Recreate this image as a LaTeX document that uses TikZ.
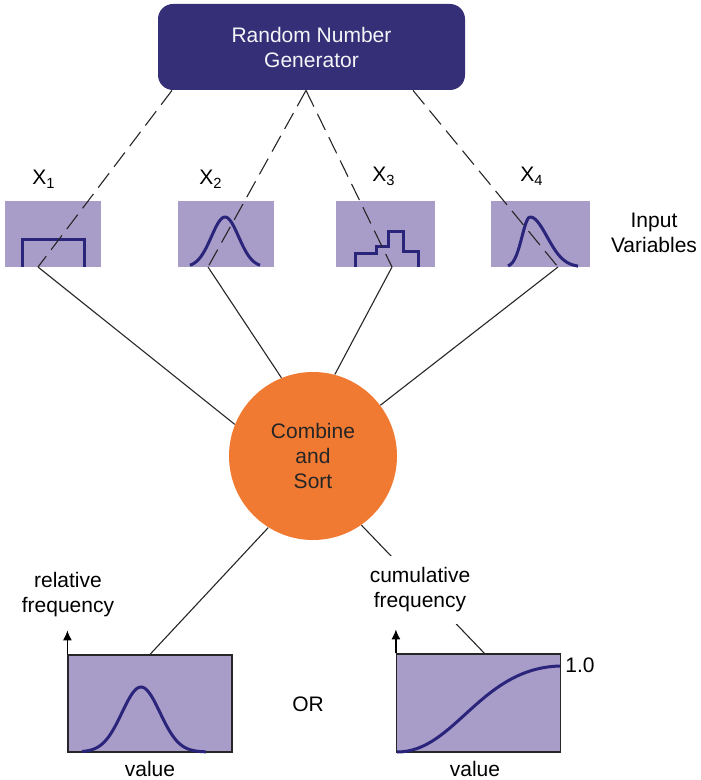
\documentclass[tikz,border=0pt]{standalone}
\usepackage{fontspec}
\setmainfont{Liberation Sans}
\usepackage{tikz}
\usetikzlibrary{arrows.meta, positioning, calc}
\definecolor{rngnavy}{RGB}{53,47,119}
\definecolor{curvenavy}{RGB}{42,36,122}
\definecolor{varlilac}{RGB}{168,156,201}
\definecolor{mixorange}{RGB}{241,122,51}

\begin{document}
\begin{tikzpicture}[
  x=0.5pt, y=-0.5pt,
  font=\fontsize{10.5}{12.5}\selectfont,
  varbox/.style={fill=varlilac, minimum width=48pt, minimum height=33pt,
                 inner sep=0pt},
  plotbox/.style={draw=black!85, line width=0.6pt, fill=varlilac,
                  minimum width=82pt, minimum height=48.5pt, inner sep=0pt},
  curve/.style={draw=curvenavy, line width=1.5pt},
  dashline/.style={black!85, line width=0.55pt, dash pattern=on 9pt off 4pt},
  link/.style={black!85, line width=0.55pt},
  axisarrow/.style={black, line width=0.6pt,
                    -{Latex[length=5pt, width=4.5pt]}},
  lbl/.style={align=center, inner sep=1pt}]

  \useasboundingbox (0,0) rectangle (700,780);

  % generator on top
  \node[fill=rngnavy, rounded corners=7.5pt, minimum width=153.5pt,
        minimum height=43pt, text=white!95!rngnavy, align=center]
    (rng) at (311.5,47) {Random Number\\ Generator};

  % input variables
  \node[varbox] (x1box) at (53,234.5) {};
  \node[varbox] (x2box) at (225.5,234.5) {};
  \node[varbox, minimum width=49.5pt] (x3box) at (385.5,234.5) {};
  \node[varbox, minimum width=49.5pt] (x4box) at (540.5,234.5) {};

  \node[anchor=base west, inner sep=0pt] (x1lbl) at (32,185)
    {X\textsubscript{1}};
  \node[anchor=base west, inner sep=0pt] (x2lbl) at (199,185)
    {X\textsubscript{2}};
  \node[anchor=base west, inner sep=0pt] (x3lbl) at (372,182)
    {X\textsubscript{3}};
  \node[anchor=base west, inner sep=0pt] (x4lbl) at (520,182)
    {X\textsubscript{4}};
  \node[lbl] (inlbl) at (654,233) {Input\\ Variables};

  % distribution shapes
  \draw[curve] (22,267) -- (22,240) -- (84,240) -- (84,267);
  \draw[curve] plot[domain=190:260, samples=50, smooth]
    (\x, {267-50*exp(-((\x-225)^2)/370)});
  \draw[curve] (355,267) -- (355,254) -- (376,254) -- (376,247)
    -- (388,247) -- (388,232) -- (403,232) -- (403,252) -- (418,252)
    -- (418,267);
  \draw[curve] plot[domain=508:530, samples=20, smooth]
    (\x, {267-50*exp(-((\x-530)^2)/128)});
  \draw[curve] plot[domain=530:578, samples=40, smooth]
    (\x, {267-50*exp(-((\x-530)^2)/578)});

  % combine and sort
  \node[circle, fill=mixorange, minimum size=84pt, inner sep=0pt,
        align=center, text=black!85] (mix) at (313,456) {Combine\\ and\\ Sort};

  % joints at the foot of each input box
  \coordinate (j1) at (38,267);
  \coordinate (j2) at (208,267);
  \coordinate (j3) at (392,267);
  \coordinate (j4) at (558,267);
  \coordinate (g1) at ($(rng.south)+(-139.5,0)$);
  \coordinate (g2) at ($(rng.south)+(-5.5,0)$);
  \coordinate (g3) at ($(rng.south)+(101.5,0)$);

  \draw[dashline] (g1) -- (j1);
  \draw[dashline] (g2) -- (j2);
  \draw[dashline] (g2) -- (j3);
  \draw[dashline] (g3) -- (j4);

  \draw[link] (j1) -- (mix.158);
  \draw[link] (j2) -- (mix.112);
  \draw[link] (j3) -- (mix.75);
  \draw[link] (j4) -- (mix.37);

  % outputs
  \node[plotbox] (relbox) at (150,703.5) {};
  \node[plotbox, minimum height=49pt] (cumbox) at (478.5,703) {};

  \draw[curve] plot[domain=82:206, samples=60, smooth]
    (\x, {752-65*exp(-((\x-141)^2)/722)});
  \draw[curve] (397,752) .. controls (455,752) and (480,668) .. (560,666);

  \draw[axisarrow] (relbox.north west) -- ++(0,-24) coordinate (relaxis);
  \draw[axisarrow] (cumbox.north west) -- ++(0,-24) coordinate (cumaxis);

  \draw[link] (mix.238) -- (relbox.north);
  \draw[link] (mix.-55) -- ([xshift=3pt]cumbox.north);

  \node[lbl] (rellbl) at (68,595) {relative\\ frequency};
  \node[lbl, fill=white, inner sep=6pt] (cumlbl) at (420,590)
    {cumulative\\ frequency};
  \node[lbl] (relval) at (150,769) {value};
  \node[lbl] (cumval) at (475,769) {value};
  \node[lbl, anchor=west] (onelbl) at (563,665) {1.0};
  \node[lbl] (orlbl) at (308,704) {OR};
\end{tikzpicture}
\end{document}
